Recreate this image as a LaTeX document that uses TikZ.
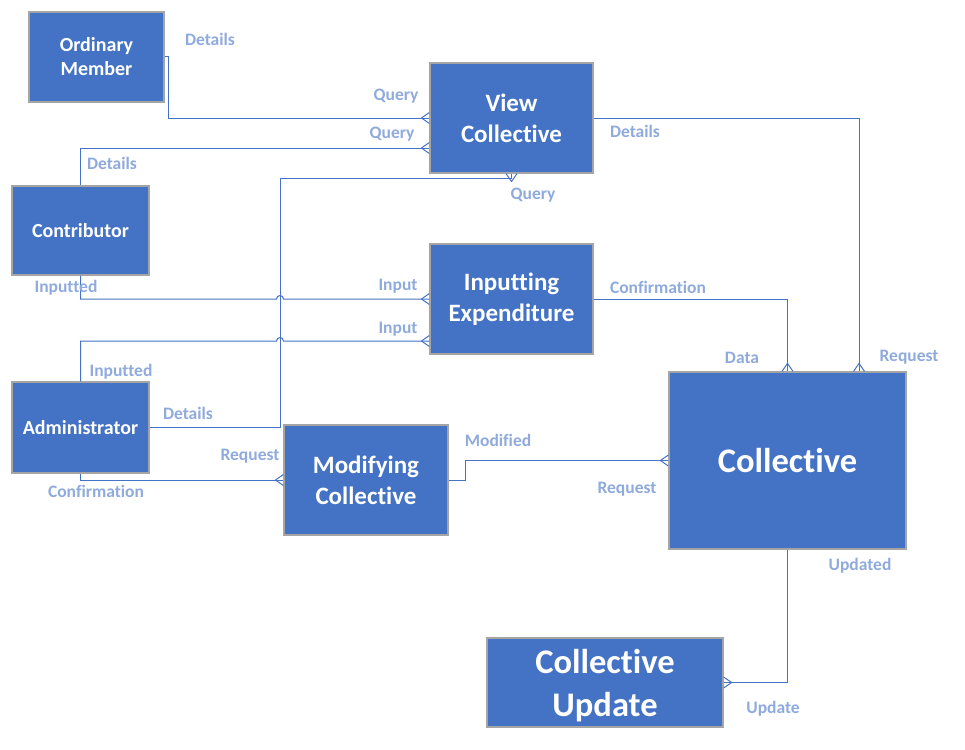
\documentclass[tikz,border=0pt]{standalone}
\usepackage{fontspec}
\setmainfont[Ligatures=NoCommon]{Carlito}
\usetikzlibrary{decorations.markings}
\definecolor{boxblue}{HTML}{4472C4}
\definecolor{labelblue}{HTML}{8FAADC}
\definecolor{boxgray}{HTML}{A5A5A5}

\begin{document}
\begin{tikzpicture}[x=1pt, y=-1pt,
    entity/.style={draw=boxgray, line width=1.2pt, fill=boxblue, text=white, align=center, inner sep=0pt},
    small/.style={font=\fontsize{20}{24}\selectfont\bfseries},
    mid/.style={font=\fontsize{25}{31}\selectfont\bfseries},
    big/.style={font=\fontsize{34.5}{43}\selectfont\bfseries},
    lbl/.style={text=labelblue, font=\fontsize{17.5}{21}\selectfont\bfseries, inner sep=0pt, text height=11pt, text depth=0pt}]
  \useasboundingbox (0,0) rectangle (965,749);

  \node[entity, small, minimum width=135pt, minimum height=90pt] (member) at (96.5,57) {Ordinary\\Member};
  \node[entity, mid, minimum width=163pt, minimum height=110pt] (view) at (511.5,118) {View\\Collective};
  \node[entity, small, minimum width=137pt, minimum height=89pt] (contrib) at (80.5,230.5) {Contributor};
  \node[entity, mid, minimum width=163pt, minimum height=110pt] (input) at (511.5,299) {Inputting\\Expenditure};
  \node[entity, small, minimum width=137pt, minimum height=91pt] (admin) at (80.5,427.5) {Administrator};
  \node[entity, mid, minimum width=164pt, minimum height=110pt] (modify) at (366,480) {Modifying\\Collective};
  \node[entity, big, minimum width=237pt, minimum height=177pt] (coll) at (787.5,460.5) {Collective};
  \node[entity, big, minimum width=236pt, minimum height=89pt, text depth=0pt] (update) at (605,682.5) {Collective\\Update};

\begin{scope}[color=boxblue, line width=1pt, decoration={
    markings,
    mark=at position 1 with {\draw (-8pt,0) -- (0,5.5pt) (-8pt,0) -- (0,-5.5pt);}}
    ]
  \draw[postaction={decorate}] (member.east) -- ++(4,0) |- (view.west);
  \draw[postaction={decorate}] (contrib.north) |- (view.west |- 0,148);
  \draw[postaction={decorate}] (admin.east) -| (280,178) -| (view.south);
  \draw[postaction={decorate}] (contrib.south) |- (276.5,299)
    arc[start angle=180, end angle=0, radius=3.5pt] -- (input.west);
  \draw[postaction={decorate}] (admin.north) |- (276.5,341)
    arc[start angle=180, end angle=0, radius=3.5pt] -- (input.west |- 0,341);
  \draw[postaction={decorate}] (input.east) -| (coll.north);
  \draw[postaction={decorate}] (view.east) -| (859,0 |- coll.north);
  \draw[postaction={decorate}] (admin.south) |- (modify.west);
  \draw[postaction={decorate}] (modify.east) -- ++(17,0) |- (coll.west);
  \draw[postaction={decorate}] (coll.south) |- (update.east);
\end{scope}

  \foreach \x/\y/\t/\n in {210/40/Details/l1, 396/95/Query/l2, 392/133/Query/l3,
      112/164/Details/l4, 533/194/Query/l5, 66/287/Inputted/l6, 398/285/Input/l7,
      398/328/Input/l8, 121/371/Inputted/l9, 188/414/Details/l10, 250/455/Request/l11,
      96/492/Confirmation/l12, 658/288/Confirmation/l13, 742/358/Data/l14,
      635/132/Details/l15, 909/356/Request/l16, 498/441/Modified/l17,
      627/488/Request/l18, 860/565/Updated/l19, 773/708/Update/l20}
    \node[lbl] (\n) at (\x,\y) {\t};
\end{tikzpicture}
\end{document}
